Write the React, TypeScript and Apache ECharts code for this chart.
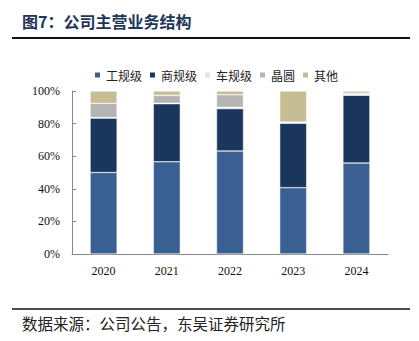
import React, { useEffect, useRef } from "react";
import * as echarts from "echarts";

const years = ["2020", "2021", "2022", "2023", "2024"];
const industrial = [50.0, 56.6, 63.2, 40.7, 55.8];
const commercial = [33.4, 35.6, 26.0, 39.5, 41.6];
const automotive = [0.3, 0.3, 0.8, 0.8, 0.5];
const wafer = [8.7, 4.8, 7.7, 0, 0.8];
const other = [7.6, 2.7, 2.3, 19.0, 1.3];

const seriesNames = ["工规级", "商规级", "车规级", "晶圆", "其他"];
const seriesData = [industrial, commercial, automotive, wafer, other];
const colors = ["#3A5F93", "#1B365D", "#E3E3E3", "#B4B4B4", "#C6BD95"];

const yTicks = [0, 20, 40, 60, 80, 100];

export default function App() {
  const ref = useRef<HTMLDivElement>(null);
  useEffect(() => {
    if (!ref.current) return;
    const chart = echarts.init(ref.current, null, { renderer: "svg" });
    const cjk = '"Noto Sans CJK SC", sans-serif';
    const serif = '"Liberation Serif", "Noto Sans CJK SC", serif';
    chart.setOption({
      animation: false,
      backgroundColor: "#ffffff",
      color: colors,
      legend: {
        top: 69,
        left: 93,
        padding: 0,
        itemWidth: 7,
        itemHeight: 7,
        itemGap: 6,
        icon: "rect",
        textStyle: { fontFamily: cjk, fontSize: 12, color: "#222" },
        data: seriesNames,
      },
      grid: { left: 72, right: 31, top: 91, bottom: 87 },
      xAxis: {
        type: "category",
        data: years,
        axisLine: { lineStyle: { color: "#888", width: 1 } },
        axisTick: { inside: true, length: 4, lineStyle: { color: "#888" } },
        axisLabel: { fontFamily: serif, fontSize: 12, color: "#111", margin: 11 },
      },
      yAxis: {
        type: "value",
        min: 0,
        max: 100,
        interval: 20,
        axisLine: { show: true, lineStyle: { color: "#888", width: 1 } },
        axisTick: { show: true, inside: true, length: 4, lineStyle: { color: "#888" } },
        splitLine: { show: false },
        axisLabel: {
          fontFamily: serif,
          fontSize: 12,
          color: "#111",
          margin: 12,
          formatter: (v: number) => (yTicks.includes(v) ? v + "%" : ""),
        },
      },
      series: seriesNames.map((name, i) => ({
        name,
        type: "bar",
        stack: "total",
        barWidth: 27,
        data: seriesData[i],
        itemStyle: { color: colors[i], borderColor: "#ffffff", borderWidth: 0.5 },
      })),
      graphic: [
        {
          type: "text",
          left: 22,
          top: 13,
          style: {
            text: "图7：公司主营业务结构",
            font: 'bold 16px "Noto Sans CJK SC"',
            fill: "#1F3658",
          },
        },
        {
          type: "line",
          shape: { x1: 12, y1: 38, x2: 410, y2: 38 },
          style: { stroke: "#111", lineWidth: 2 },
        },
        {
          type: "line",
          shape: { x1: 12, y1: 309, x2: 410, y2: 309 },
          style: { stroke: "#111", lineWidth: 1.5 },
        },
        {
          type: "text",
          left: 22,
          top: 315,
          style: {
            text: "数据来源：公司公告，东吴证券研究所",
            font: '15.5px "Noto Sans CJK SC"',
            fill: "#222",
          },
        },
      ],
    });
    return () => chart.dispose();
  }, []);
  return (
    <div
      ref={ref}
      style={{ position: "fixed", left: 0, top: 0, width: 419, height: 341 }}
    />
  );
}
